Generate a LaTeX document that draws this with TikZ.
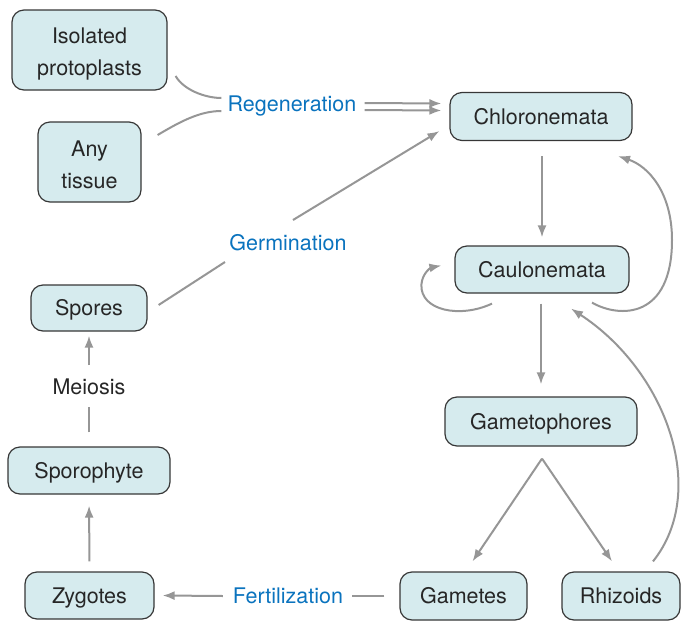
\documentclass[tikz,border=0pt]{standalone}
\usepackage{fontspec}
\setmainfont{TeX Gyre Heros}
\usetikzlibrary{arrows.meta,calc}
\definecolor{boxfill}{RGB}{214,235,238}
\definecolor{boxline}{RGB}{55,55,55}
\definecolor{arrgray}{RGB}{150,150,150}
\definecolor{lblblue}{RGB}{10,115,190}
\begin{document}
\begin{tikzpicture}[x=1pt,y=-1pt,
  every node/.style={font=\fontsize{21.5}{31.7}\selectfont, inner sep=0pt},
  stage/.style={draw=boxline, fill=boxfill, line width=1.2pt, rounded corners=12pt, align=center, text=black!85},
  oneline/.style={text height=17.5pt, text depth=2pt},
  proc/.style={oneline, text=lblblue},
  plain/.style={oneline, text=black!85},
  conn/.style={draw=arrgray, line width=2pt},
  arr/.style={conn, -{Latex[length=12pt,width=9pt]}}
]
\useasboundingbox (0,0) rectangle (681,622);

% stages
\node[stage, minimum width=155, minimum height=80] (iso) at (89.5,50) {\raisebox{-3pt}[\height][\depth]{\begin{tabular}{@{}c@{}}Isolated\\protoplasts\end{tabular}}};
\node[stage, minimum width=103, minimum height=80] (any) at (89.5,162) {\raisebox{-4pt}[\height][\depth]{\begin{tabular}{@{}c@{}}Any\\tissue\end{tabular}}};
\node[stage, oneline, minimum width=182, minimum height=48] (chl) at (541,116.5) {Chloronemata};
\node[stage, oneline, minimum width=174, minimum height=47] (cau) at (542,269.5) {Caulonemata};
\node[stage, oneline, minimum width=116, minimum height=46] (spo) at (89,308) {Spores};
\node[stage, oneline, minimum width=162, minimum height=47] (sph) at (89,470.5) {Sporophyte};
\node[stage, oneline, minimum width=192, minimum height=49] (gph) at (541,421.5) {Gametophores};
\node[stage, oneline, minimum width=129, minimum height=47] (zyg) at (89.5,595.5) {Zygotes};
\node[stage, oneline, minimum width=127, minimum height=48] (gam) at (463.5,596) {Gametes};
\node[stage, oneline, minimum width=118, minimum height=48] (rhi) at (621,596) {Rhizoids};

% process labels
\node[proc] (reg) at (292,104) {Regeneration};
\node[proc] (ger) at (288,243) {Germination};
\node[plain] (mei) at (89,387) {Meiosis};
\node[proc] (fer) at (288,596) {Fertilization};

% regeneration
\draw[conn] ($(iso.east)+(8,26)$) .. controls ($(iso.east)+(16,40)$) and ($(reg.west)+(-22,-6)$) .. ($(reg.west)+(-6,-6)$);
\draw[conn] ($(any.east)+(16,-27)$) .. controls ($(any.east)+(38,-40)$) and ($(reg.west)+(-28,7)$) .. ($(reg.west)+(-6,7)$);
\draw[arr] ($(reg.east)+(8,-1)$) -- ($(chl.west)+(-8,-13)$);
\draw[arr] ($(reg.east)+(8,6)$) -- ($(chl.west)+(-8,-6)$);

% germination
\coordinate (g1) at (225,262);
\coordinate (g2) at (293,220);
\draw[conn] ($(spo.east)+(11,-3)$) -- (g1);
\draw[arr] (g2) -- ($(chl.south west)+(-10,-10)$);

% chloronemata -> caulonemata
\draw[arr, shorten <=15pt, shorten >=8pt] (chl.south -| cau.north) -- (cau.north);
% self loop
\draw[arr] ($(cau.south)+(-50,10)$) .. controls ($(cau.south)+(-82,25)$) and ($(cau.south)+(-122,17)$) .. ($(cau.west)+(-33,15)$) .. controls ($(cau.west)+(-32,3)$) and ($(cau.west)+(-23,-2)$) .. ($(cau.west)+(-13,-4)$);
% caulonemata -> chloronemata loop
\draw[arr] ($(cau.south)+(50,9)$) .. controls ($(cau.south)+(78,25)$) and ($(cau.south)+(130,25)$) .. (672,240) .. controls (672,192) and (648,166) .. ($(chl.south)+(77,15)$);
% caulonemata -> gametophores
\draw[arr, shorten <=10pt, shorten >=12pt] (cau.south -| gph.north) -- (gph.north);
% gametophores -> gametes / rhizoids
\coordinate (apex) at ($(gph.south)+(1,12)$);
\draw[arr] (apex) -- ($(gam.north)+(9,-10)$);
\draw[arr] (apex) -- ($(rhi.north)+(-9,-10)$);
% rhizoids -> caulonemata
\draw[arr] ($(rhi.north)+(32,-10)$) .. controls (710,490) and (665,370) .. ($(cau.south)+(29,15)$);

% fertilization
\draw[conn] ($(gam.west)+(-15,0)$) -- ($(fer.east)+(9,0)$);
\draw[arr] ($(fer.west)+(-10,0)$) -- ($(zyg.east)+(8,0)$);

% zygotes -> sporophyte
\draw[arr, shorten <=10pt, shorten >=11pt] (zyg.north) -- (sph.south);
% meiosis
\draw[conn, shorten <=14pt, shorten >=10pt] (sph.north) -- (mei.south);
\draw[arr, shorten <=12pt, shorten >=4pt] (mei.north) -- (spo.south);
\end{tikzpicture}
\end{document}
